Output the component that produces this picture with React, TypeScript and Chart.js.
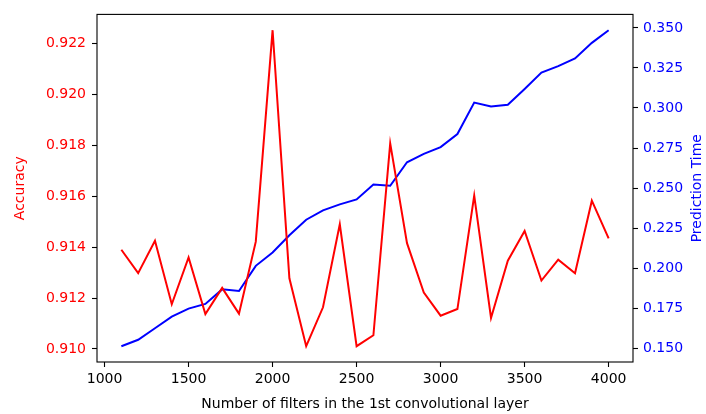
import React, { useEffect, useRef } from "react";
import { Chart, registerables } from "chart.js";

Chart.register(...registerables);

// Number of filters in the first convolutional layer
const filterCounts = [
  1100, 1200, 1300, 1400, 1500, 1600, 1700, 1800, 1900, 2000,
  2100, 2200, 2300, 2400, 2500, 2600, 2700, 2800, 2900, 3000,
  3100, 3200, 3300, 3400, 3500, 3600, 3700, 3800, 3900, 4000,
];

// Validation accuracy for each filter count
const accuracy = [
  0.9139, 0.91298, 0.91425, 0.91176, 0.9136, 0.91137, 0.9124, 0.91139, 0.91422, 0.92253,
  0.91278, 0.91011, 0.91164, 0.9149, 0.91011, 0.91054, 0.91808, 0.91416, 0.91222, 0.91131,
  0.91157, 0.91603, 0.91122, 0.91347, 0.91464, 0.91269, 0.91351, 0.91298, 0.91583, 0.91435,
];

// Prediction time (seconds) for each filter count
const predictionTime = [
  0.1512, 0.1552, 0.1624, 0.1697, 0.1747, 0.1776, 0.1867, 0.1857, 0.2014, 0.2097,
  0.2205, 0.2302, 0.2361, 0.2398, 0.2429, 0.2522, 0.2514, 0.2661, 0.2713, 0.2756,
  0.2837, 0.3034, 0.3009, 0.302, 0.3119, 0.3221, 0.3262, 0.331, 0.3407, 0.3486,
];

const xTicks = [1000, 1500, 2000, 2500, 3000, 3500, 4000];
const accuracyTicks = [0.91, 0.912, 0.914, 0.916, 0.918, 0.92, 0.922];
const timeTicks = [0.15, 0.175, 0.2, 0.225, 0.25, 0.275, 0.3, 0.325, 0.35];

const FONT = "'DejaVu Sans', sans-serif";
const FONT_SIZE = 14;

// Pad a data range by 5% on each side
const padRange = (vals: number[]) => {
  const lo = Math.min(...vals);
  const hi = Math.max(...vals);
  const m = (hi - lo) * 0.05;
  return { min: lo - m, max: hi + m };
};

const axisDecor = {
  id: "axisDecor",
  afterDraw(chart: any) {
    const { ctx, chartArea } = chart;
    const { left, right, top, bottom } = chartArea;
    ctx.save();
    ctx.strokeStyle = "#000";
    ctx.lineWidth = 1.1;
    ctx.strokeRect(left, top, right - left, bottom - top);

    ctx.font = `${FONT_SIZE}px ${FONT}`;
    ctx.textAlign = "center";
    ctx.textBaseline = "middle";
    const midY = (top + bottom) / 2;

    ctx.fillStyle = "#000";
    ctx.fillText("Number of filters in the 1st convolutional layer", (left + right) / 2, 404);

    ctx.save();
    ctx.translate(20, midY);
    ctx.rotate(-Math.PI / 2);
    ctx.fillStyle = "red";
    ctx.fillText("Accuracy", 0, 0);
    ctx.restore();

    ctx.save();
    ctx.translate(697, midY);
    ctx.rotate(-Math.PI / 2);
    ctx.fillStyle = "blue";
    ctx.fillText("Prediction Time", 0, 0);
    ctx.restore();

    ctx.restore();
  },
};

export default function App() {
  const canvasRef = useRef<HTMLCanvasElement | null>(null);

  useEffect(() => {
    if (!canvasRef.current) return;
    const xRange = padRange(filterCounts);
    const accRange = padRange(accuracy);
    const timeRange = padRange(predictionTime);

    const chart = new Chart(canvasRef.current, {
      type: "line",
      data: {
        datasets: [
          {
            label: "Accuracy",
            data: filterCounts.map((x, i) => ({ x, y: accuracy[i] })),
            borderColor: "red",
            borderWidth: 2,
            pointRadius: 0,
            tension: 0,
            yAxisID: "yAcc",
          },
          {
            label: "Prediction Time",
            data: filterCounts.map((x, i) => ({ x, y: predictionTime[i] })),
            borderColor: "blue",
            borderWidth: 2,
            pointRadius: 0,
            tension: 0,
            yAxisID: "yTime",
          },
        ],
      },
      options: {
        responsive: false,
        animation: false,
        layout: { padding: { top: 13, left: 0, right: 0, bottom: 0 } },
        plugins: {
          legend: { display: false },
          tooltip: { enabled: false },
        },
        scales: {
          x: {
            type: "linear",
            min: xRange.min,
            max: xRange.max,
            afterBuildTicks: (s: any) => {
              s.ticks = xTicks.map((v) => ({ value: v }));
            },
            afterFit: (s: any) => {
              s.height = 52;
            },
            grid: { drawOnChartArea: false, tickLength: 5, tickColor: "#000", tickWidth: 1.1 },
            border: { display: false },
            ticks: {
              color: "#000",
              padding: 4,
              maxRotation: 0,
              font: { family: FONT, size: FONT_SIZE },
              callback: (v: any) => String(v),
            },
          },
          yAcc: {
            type: "linear",
            position: "left",
            min: accRange.min,
            max: accRange.max,
            afterBuildTicks: (s: any) => {
              s.ticks = accuracyTicks.map((v) => ({ value: v }));
            },
            afterFit: (s: any) => {
              s.width = 97;
            },
            grid: { drawOnChartArea: false, tickLength: 5, tickColor: "#000", tickWidth: 1.1 },
            border: { display: false },
            ticks: {
              color: "red",
              padding: 6,
              font: { family: FONT, size: FONT_SIZE },
              callback: (v: any) => Number(v).toFixed(3),
            },
          },
          yTime: {
            type: "linear",
            position: "right",
            min: timeRange.min,
            max: timeRange.max,
            afterBuildTicks: (s: any) => {
              s.ticks = timeTicks.map((v) => ({ value: v }));
            },
            afterFit: (s: any) => {
              s.width = 73;
            },
            grid: { drawOnChartArea: false, tickLength: 5, tickColor: "#000", tickWidth: 1.1 },
            border: { display: false },
            ticks: {
              color: "blue",
              padding: 5,
              font: { family: FONT, size: FONT_SIZE },
              callback: (v: any) => Number(v).toFixed(3),
            },
          },
        },
      },
      plugins: [axisDecor],
    });
    return () => chart.destroy();
  }, []);

  return (
    <canvas
      ref={canvasRef}
      width={706}
      height={414}
      style={{ position: "absolute", left: 0, top: 0, width: 706, height: 414, background: "#fff" }}
    />
  );
}
